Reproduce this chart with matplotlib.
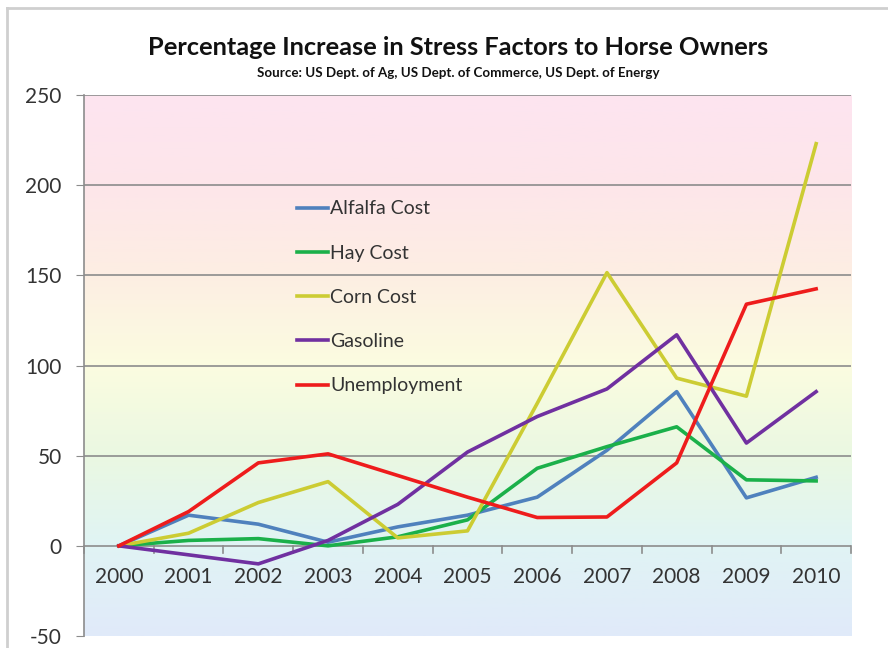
import numpy as np
import matplotlib
matplotlib.use("Agg")
import matplotlib.pyplot as plt
from matplotlib.colors import LinearSegmentedColormap
from matplotlib.lines import Line2D

years = ["2000", "2001", "2002", "2003", "2004", "2005", "2006", "2007", "2008", "2009", "2010"]
alfalfa = [0, 17, 12, 2, 10.5, 17, 27, 53, 85.5, 26.6, 38]
hay = [0, 3, 4, 0, 5, 14.4, 43, 55, 66, 36.6, 36]
corn = [0, 7, 24, 35.6, 4.4, 8.3, 79, 151.5, 93, 83, 223]
gasoline = [0, -5, -10, 3, 23, 52, 71.7, 87, 117, 57, 85.5]
unemployment = [0, 19, 46, 51, 39, 27, 15.7, 16, 46, 134, 142.5]

series = [
    ("Alfalfa Cost", alfalfa, "#4f81bd"),
    ("Hay Cost", hay, "#1bb04a"),
    ("Corn Cost", corn, "#cccc33"),
    ("Gasoline", gasoline, "#7030a0"),
    ("Unemployment", unemployment, "#ee1c1c"),
]

plt.rcParams['font.family'] = ['Lato', 'DejaVu Sans']

fig = plt.figure(figsize=(8.88, 6.48), dpi=100)
# outer chart border (top and left)
fig.add_artist(Line2D([7/888, 7/888], [0, 1-8/648], transform=fig.transFigure, color="#cfcfcf", linewidth=2))
fig.add_artist(Line2D([7/888, 1], [1-8/648, 1-8/648], transform=fig.transFigure, color="#cfcfcf", linewidth=2))

ax = fig.add_axes([84/888, 1-636/648, 767/888, 541/648])

x = np.arange(len(years))
ymin, ymax = -50, 250
ax.set_xlim(-0.5, len(years) - 0.5)
ax.set_ylim(ymin, ymax)

# background gradient
stops = [(0.0, "#e0eafa"), (0.17, "#e0f4f4"), (0.33, "#eaf8e2"), (0.5, "#fbfce0"),
         (0.67, "#fdeee3"), (0.83, "#fde6ea"), (1.0, "#fde4f0")]
cmap = LinearSegmentedColormap.from_list("bg", stops)
grad = np.linspace(0, 1, 256).reshape(-1, 1)
ax.imshow(grad, extent=[-0.5, len(years) - 0.5, ymin, ymax], origin="lower", aspect="auto",
          cmap=cmap, zorder=0)

for yv in [50, 100, 150, 200, 250]:
    ax.axhline(yv, color="#8c8c8c", linewidth=1.2, zorder=1)
ax.axhline(0, color="#8c8c8c", linewidth=1.2, zorder=1)

for name, vals, col in series:
    ax.plot(x, vals, color=col, linewidth=2.6, label=name, zorder=3)

ax.set_yticks(np.arange(-50, 251, 50))
ax.set_yticklabels([str(v) for v in range(-50, 251, 50)], fontsize=15, color="#333333")
ax.tick_params(axis="y", length=6, color="#8c8c8c", pad=10)
ax.set_xticks([])
for i, yr in enumerate(years):
    ax.text(i, -11.5, yr, ha="center", va="top", fontsize=15, color="#333333", zorder=4)
for i in range(len(years) + 1):
    ax.plot([i - 0.5, i - 0.5], [0, -4], color="#8c8c8c", linewidth=1.2, zorder=2, clip_on=False)

for s in ["top", "right", "bottom"]:
    ax.spines[s].set_visible(False)
ax.spines["left"].set_color("#8c8c8c")
ax.spines["left"].set_linewidth(1.2)

leg = ax.legend(loc="upper left", bbox_to_anchor=(0.265, 0.823), frameon=False, fontsize=14,
                handlelength=1.6, handletextpad=0.1, labelspacing=1.4, borderpad=0)
for t in leg.get_texts():
    t.set_color("#333333")

fig.text(0.516, 0.926, "Percentage Increase in Stress Factors to Horse Owners", ha="center", va="center",
         fontsize=18.3, fontweight="bold", color="#111111")
fig.text(0.516, 0.887, "Source: US Dept. of Ag, US Dept. of Commerce, US Dept. of Energy", ha="center",
         va="center", fontsize=9.6, fontweight="bold", color="#111111")

fig.savefig("out.png", dpi=100)
